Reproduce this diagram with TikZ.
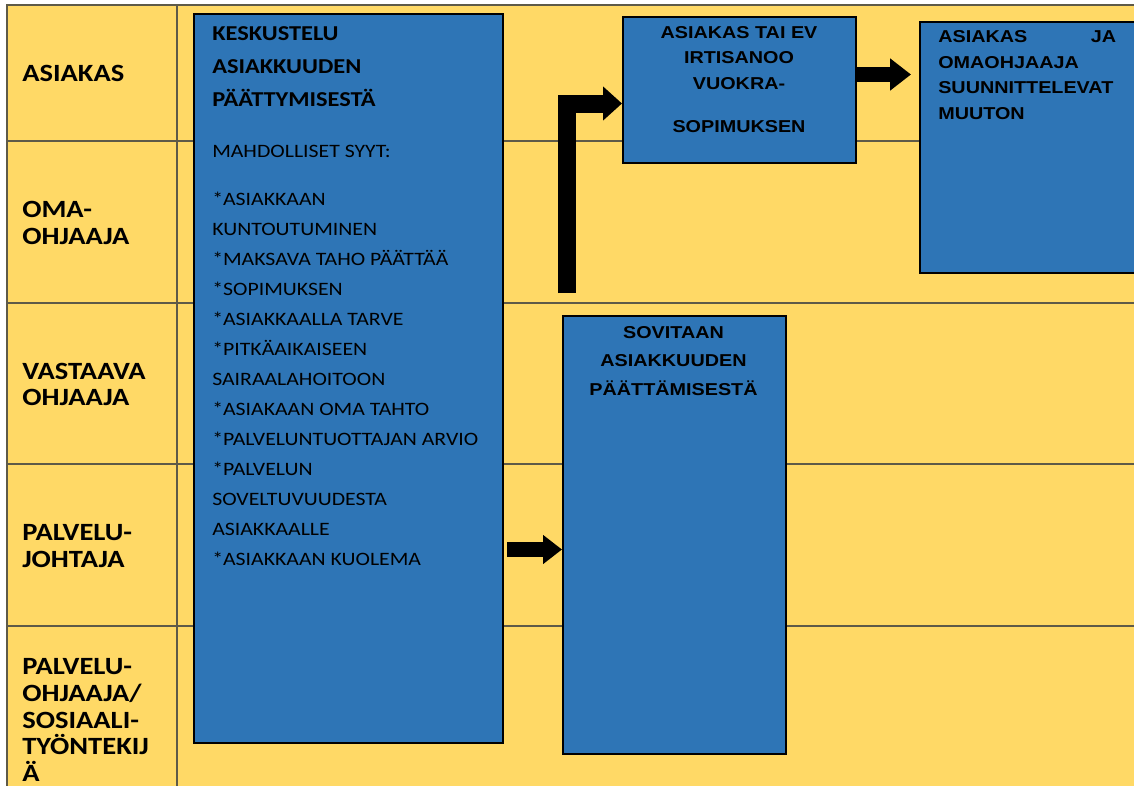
\documentclass[tikz,border=0pt]{standalone}
\usepackage{fontspec}
\setmainfont{Carlito}[FakeStretch=1.15]
\newfontfamily\arialfont{Liberation Sans}[FakeStretch=1.15]
\usepackage{tikz}
\usetikzlibrary{positioning,arrows.meta,calc}
\definecolor{prYellow}{HTML}{FFD966}
\definecolor{prBlue}{HTML}{2E75B6}
\definecolor{prLine}{HTML}{5E5A48}
\tikzset{
  pr-box/.style={draw=black, line width=1.6pt, fill=prBlue, inner sep=0pt,
    anchor=north west},
  pr-lane/.style={font=\bfseries\fontsize{18.6}{20}\selectfont, align=left,
    anchor=west, inner sep=0pt},
  pr-head/.style={font=\bfseries\fontsize{15.9}{24.75}\selectfont, align=left,
    anchor=north west, inner sep=0pt},
  pr-text/.style={font=\fontsize{14.2}{22.5}\selectfont, align=left,
    anchor=north west, inner sep=0pt},
  pr-arial/.style={font=\arialfont\bfseries\fontsize{12.9}{19.1}\selectfont,
    inner sep=0pt},
  pr-grid/.style={draw=prLine, line width=0.9pt},
  pr-flow/.style={-{Triangle[length=14.25pt,width=21pt]}, line width=11.25pt,
    draw=black}
}
\begin{document}
\begin{tikzpicture}[x=0.75pt, y=-0.75pt]
\useasboundingbox (0,0) rectangle (1134,786);
% Lanes
\fill[prYellow] (7,5) rectangle (1134,786);
\foreach \y in {141,303,464,626}{
  \draw[pr-grid] (7,\y) -- (1134,\y);
}
\draw[pr-grid] (1134,5) -- (7,5) -- (7,786);
\draw[pr-grid] (177,5) -- (177,786);
\foreach \y/\n/\t in {73/laneAsiakas/{ASIAKAS}, 223/laneOma/{OMA-\\OHJAAJA},
  384.5/laneVastaava/{VASTAAVA\\OHJAAJA}, 546/laneJohtaja/{PALVELU-\\JOHTAJA},
  720/laneSosiaali/{PALVELU-\\OHJAAJA/\\SOSIAALI-\\TYÖNTEKIJ\\Ä}}{
  \node[pr-lane] (\n) at (22,\y) {\t};
}
% Boxes
\node[pr-box, minimum width=231.75pt, minimum height=546.75pt] (keskustelu) at (193,13) {};
\node[pr-box, minimum width=174.75pt, minimum height=109.5pt] (irtisanoo) at (622,16) {};
\node[pr-box, minimum width=170pt, minimum height=188.25pt] (muutto) at (919,21) {};
\node[pr-box, minimum width=167.25pt, minimum height=328.5pt] (sovitaan) at (562,315) {};
% Box texts
\node[pr-head] (keskHead) at (212,26.5) {KESKUSTELU\\ASIAKKUUDEN\\PÄÄTTYMISESTÄ};
\node[pr-text] (keskSyyt) at (212,145) {MAHDOLLISET SYYT:\\[13.5pt]
  *ASIAKKAAN\\KUNTOUTUMINEN\\*MAKSAVA TAHO PÄÄTTÄÄ\\*SOPIMUKSEN\\
  *ASIAKKAALLA TARVE\\*PITKÄAIKAISEEN\\SAIRAALAHOITOON\\*ASIAKAAN OMA TAHTO\\
  *PALVELUNTUOTTAJAN ARVIO\\*PALVELUN\\SOVELTUVUUDESTA\\ASIAKKAALLE\\
  *ASIAKKAAN KUOLEMA};
\node[pr-arial, anchor=north, align=center] (irtText) at (739,26)
  {ASIAKAS TAI EV\\IRTISANOO\\VUOKRA-\\[13pt]SOPIMUKSEN};
\node[pr-arial, anchor=north west, align=left, text width=133.5pt,
  font=\arialfont\bfseries\fontsize{12.9}{19.3}\selectfont] (muutText) at (938,30)
  {ASIAKAS\hfill JA\\OMAOHJAAJA\\SUUNNITTELEVAT\\MUUTON};
\node[pr-arial, anchor=north, align=center,
  font=\arialfont\bfseries\fontsize{12.9}{21.4}\selectfont] (sovText) at (673.5,326)
  {SOVITAAN\\ASIAKKUUDEN\\PÄÄTTÄMISESTÄ};
% Arrows
\coordinate (elbowFoot) at (567,293);
\coordinate (elbowTurn) at (567,103.5);
\coordinate (suunTip) at (855,74.5);
\coordinate (syytOut) at (507,549.5);
\draw[pr-flow, line width=13.5pt, -{Triangle[length=14.25pt,width=24.75pt]}]
  (elbowFoot) |- (irtisanoo.west |- elbowTurn);
\draw[pr-flow, -{Triangle[length=15.75pt,width=23.25pt]}]
  (irtisanoo.east |- suunTip) -- ([xshift=-6pt]muutto.west |- suunTip);
\draw[pr-flow] (syytOut) -- (sovitaan.west |- syytOut);
\end{tikzpicture}
\end{document}
